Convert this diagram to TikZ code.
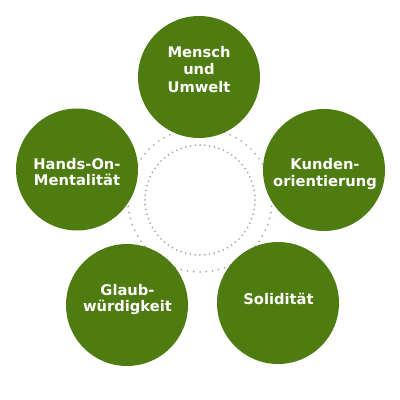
\documentclass[tikz,border=0pt]{standalone}
\usepackage{fontspec}
\setmainfont{DejaVu Sans}
\usepackage{tikz}
\definecolor{leafgreen}{RGB}{78,124,16}
\definecolor{dotgray}{RGB}{168,168,168}

\begin{document}
\begin{tikzpicture}[x=1pt,y=-1pt,
  bubble/.style={circle,fill=leafgreen,inner sep=0pt,minimum size=122pt},
  caption/.style={align=center,text=white,inner sep=0pt,
    font=\fontsize{14.7}{16.3}\selectfont\bfseries},
  dotring/.style={dotgray,line width=2pt,line cap=round}]
 \useasboundingbox (0,0) rectangle (400,400);
 \draw[dotring,dash pattern=on 0pt off 6.283pt] (200,200) circle (72);
 \draw[dotring,dash pattern=on 0pt off 4.800pt] (200,200) circle (55);
 \node[bubble] (mensch) at (199,77) {};
 \node[bubble] (hands) at (77,169.5) {};
 \node[bubble] (kunden) at (324,170) {};
 \node[bubble] (glaub) at (127,305) {};
 \node[bubble] (solid) at (278,303) {};
 \node[caption,font=\fontsize{14.7}{17.7}\selectfont\bfseries] (menschtxt) at (199,69.5) {Mensch\\und\\Umwelt};
 \node[caption] (handstxt) at (77,172) {Hands-On-\\Mentalität};
 \node[caption] (kundentxt) at (325,174) {Kunden-\\orientierung};
 \node[caption] (glaubtxt) at (127.5,299.5) {Glaub-\\würdigkeit};
 \node[caption] (solidtxt) at (278.5,298.5) {Solidität};
\end{tikzpicture}
\end{document}
